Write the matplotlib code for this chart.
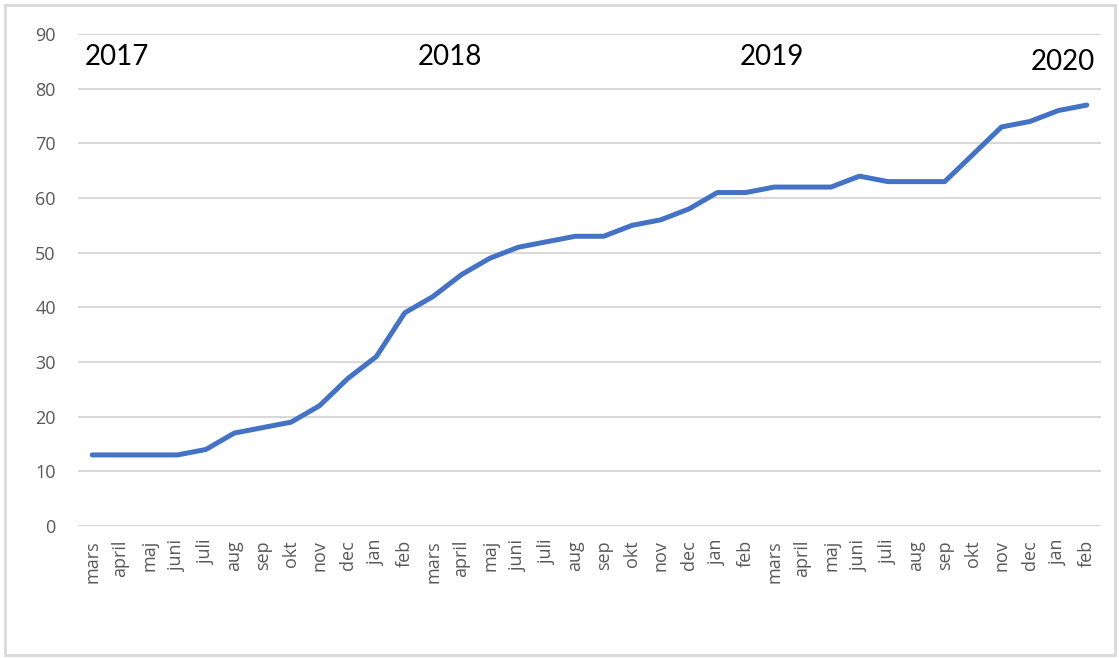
import matplotlib.pyplot as plt
from matplotlib.patches import Rectangle

# months from mars 2017 to feb 2020
months = ['mars', 'april', 'maj', 'juni', 'juli', 'aug', 'sep', 'okt', 'nov', 'dec', 'jan', 'feb',
          'mars', 'april', 'maj', 'juni', 'juli', 'aug', 'sep', 'okt', 'nov', 'dec', 'jan', 'feb',
          'mars', 'april', 'maj', 'juni', 'juli', 'aug', 'sep', 'okt', 'nov', 'dec', 'jan', 'feb']
values = [13, 13, 13, 13, 14, 17, 18, 19, 22, 27, 31, 39,
          42, 46, 49, 51, 52, 53, 53, 55, 56, 58, 61, 61,
          62, 62, 62, 64, 63, 63, 63, 68, 73, 74, 76, 77]
years = ['2017', '2018', '2019', '2020']
year_x = [-0.25, 11.45, 22.8, 35.3]
year_y = [85.8, 85.8, 85.8, 84.8]
yticks = list(range(0, 100, 10))

fig = plt.figure(figsize=(11.19, 6.58), dpi=100)
ax = fig.add_axes([78 / 1119, 1 - 526 / 658, (1101 - 78) / 1119, (526 - 34) / 658])

x = list(range(len(months)))
ax.plot(x, values, color='#4472C4', linewidth=3.6, solid_capstyle='round', zorder=3)

ax.set_xlim(-0.5, len(months) - 0.5)
ax.set_ylim(0, 90)
ax.set_yticks(yticks)
ax.set_xticks(x)
ax.set_xticklabels(months, rotation=90, fontsize=13, color='#595959', family='Open Sans')
ax.set_yticklabels([str(t) for t in yticks], fontsize=13, color='#595959', family='Open Sans')
ax.tick_params(axis='both', length=0)
ax.tick_params(axis='y', pad=16)
ax.tick_params(axis='x', pad=10)
ax.grid(axis='y', color='#D9D9D9', linewidth=1.5)
ax.set_axisbelow(True)
for s in ax.spines.values():
    s.set_visible(False)

# year labels
for i, yr in enumerate(years):
    ha = 'right' if i == len(years) - 1 else 'left'
    ax.text(year_x[i], year_y[i], yr, fontsize=20, color='black', family='Lato',
            ha=ha, va='center')

# chart frame
fig.patches.append(Rectangle((5 / 1119, 3 / 658), 1110 / 1119, 650 / 658,
                             transform=fig.transFigure, fill=False,
                             edgecolor='#D9D9D9', linewidth=2))

fig.savefig('out.png', dpi=100)
